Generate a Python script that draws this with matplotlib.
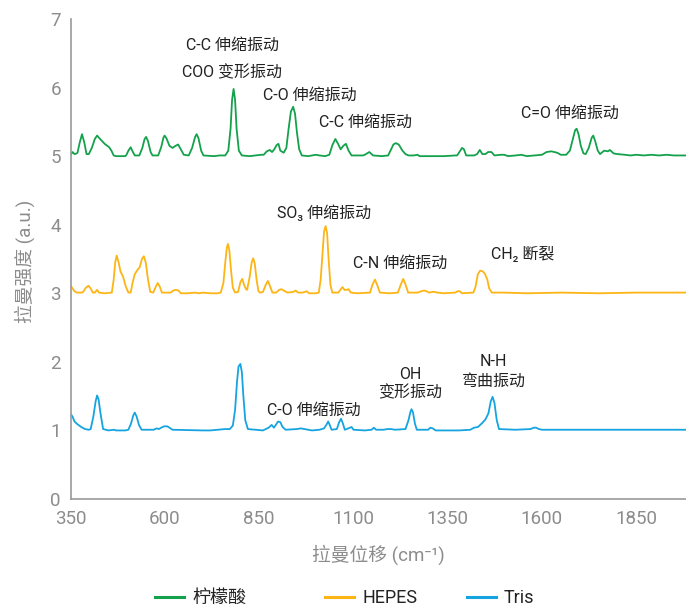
import matplotlib
matplotlib.use("Agg")
import matplotlib.pyplot as plt
from matplotlib.lines import Line2D

plt.rcParams['font.family'] = ['Roboto', 'Noto Sans CJK SC', 'DejaVu Sans']

# Raman shift (cm-1) and intensity (a.u.) for each buffer, offset vertically
citric_x = [350, 355, 360, 366, 368, 374, 380, 386, 392, 398, 406, 414, 420, 428, 440, 452,
            458, 464, 470, 495, 498, 503, 509, 515, 520, 532, 540, 546, 550, 555, 562, 567,
            582, 590, 596, 599, 604, 612, 620, 628, 635, 642, 650, 663, 672, 680, 684, 689,
            696, 702, 730, 745, 760, 768, 774, 778, 782, 786, 790, 796, 804, 825, 840, 855,
            862, 870, 878, 884, 890, 896, 901, 906, 915, 922, 928, 934, 940, 945, 950, 956,
            963, 980, 1000, 1010, 1025, 1036, 1044, 1052, 1059, 1066, 1073, 1080, 1087, 1095,
            1125, 1130, 1142, 1152, 1175, 1192, 1200, 1206, 1212, 1220, 1230, 1238, 1246,
            1260, 1270, 1275, 1300, 1340, 1370, 1375, 1382, 1388, 1393, 1399, 1420, 1428,
            1435, 1442, 1450, 1457, 1466, 1474, 1490, 1500, 1510, 1530, 1545, 1560, 1580,
            1600, 1612, 1625, 1640, 1650, 1664, 1674, 1682, 1688, 1692, 1697, 1703, 1710,
            1716, 1724, 1732, 1736, 1741, 1748, 1754, 1765, 1775, 1780, 1790, 1800, 1820,
            1835, 1850, 1870, 1890, 1910, 1930, 1950, 1980]
citric_y = [5.02, 5.06, 5.03, 5.04, 5.05, 5.20, 5.32, 5.20, 5.03, 5.03, 5.12, 5.25, 5.30, 5.25,
            5.18, 5.13, 5.08, 5.01, 5.00, 5.00, 5.02, 5.08, 5.13, 5.06, 5.01, 5.01, 5.12, 5.25,
            5.28, 5.22, 5.06, 5.01, 5.01, 5.13, 5.27, 5.30, 5.26, 5.15, 5.12, 5.15, 5.17, 5.10,
            5.02, 5.01, 5.12, 5.28, 5.32, 5.26, 5.08, 5.01, 5.00, 5.01, 5.01, 5.08, 5.40, 5.82,
            5.98, 5.82, 5.40, 5.08, 5.01, 5.00, 5.01, 5.02, 5.02, 5.07, 5.09, 5.06, 5.10, 5.16,
            5.18, 5.08, 5.05, 5.12, 5.40, 5.65, 5.72, 5.62, 5.35, 5.10, 5.01, 5.00, 5.02, 5.01,
            5.00, 5.02, 5.16, 5.25, 5.18, 5.10, 5.15, 5.18, 5.08, 5.01, 5.01, 5.02, 5.06, 5.01,
            5.00, 5.01, 5.10, 5.17, 5.19, 5.17, 5.08, 5.03, 5.01, 5.01, 5.02, 5.00, 5.00, 5.00,
            5.01, 5.01, 5.07, 5.12, 5.10, 5.01, 5.01, 5.03, 5.09, 5.03, 5.03, 5.06, 5.06, 5.01,
            5.02, 5.02, 5.00, 5.01, 5.02, 5.00, 5.01, 5.02, 5.06, 5.07, 5.05, 5.02, 5.02, 5.08,
            5.25, 5.38, 5.40, 5.32, 5.15, 5.04, 5.03, 5.12, 5.27, 5.30, 5.22, 5.08, 5.03, 5.08,
            5.07, 5.09, 5.04, 5.03, 5.02, 5.01, 5.02, 5.01, 5.02, 5.01, 5.02, 5.01, 5.01]

hepes_x = [350, 355, 360, 366, 380, 383, 390, 397, 403, 409, 414, 420, 425, 440, 459, 464,
           468, 472, 477, 482, 489, 496, 503, 509, 514, 520, 527, 533, 539, 544, 549, 555,
           561, 569, 576, 581, 586, 592, 615, 622, 629, 636, 642, 660, 680, 690, 700, 720,
           740, 748, 755, 760, 764, 767, 771, 775, 780, 786, 794, 800, 805, 810, 815, 818,
           825, 830, 834, 838, 843, 848, 852, 860, 867, 873, 879, 885, 895, 903, 909, 915,
           925, 940, 947, 953, 965, 976, 982, 1000, 1008, 1013, 1018, 1022, 1026, 1030,
           1034, 1039, 1044, 1060, 1065, 1071, 1076, 1082, 1087, 1093, 1110, 1140, 1144,
           1150, 1157, 1163, 1170, 1195, 1218, 1225, 1232, 1238, 1245, 1270, 1280, 1287,
           1294, 1300, 1310, 1316, 1322, 1340, 1370, 1376, 1382, 1388, 1418, 1424, 1430,
           1436, 1443, 1449, 1455, 1460, 1467, 1500, 1560, 1650, 1750, 1850, 1930, 1980]
hepes_y = [3.11, 3.07, 3.03, 3.01, 3.01, 3.02, 3.08, 3.11, 3.07, 3.01, 3.01, 3.05, 3.01, 3.00,
           3.01, 3.20, 3.45, 3.55, 3.45, 3.32, 3.24, 3.10, 3.01, 3.01, 3.15, 3.28, 3.34, 3.38,
           3.50, 3.54, 3.45, 3.20, 3.02, 3.01, 3.10, 3.15, 3.10, 3.01, 3.01, 3.04, 3.05, 3.04,
           3.00, 3.00, 3.01, 3.00, 3.01, 3.00, 3.00, 3.01, 3.15, 3.45, 3.66, 3.72, 3.62, 3.35,
           3.08, 3.01, 3.02, 3.16, 3.21, 3.12, 3.06, 3.05, 3.25, 3.45, 3.51, 3.44, 3.20, 3.03,
           3.01, 3.02, 3.12, 3.18, 3.10, 3.01, 3.01, 3.05, 3.06, 3.04, 3.01, 3.02, 3.04, 3.01,
           3.01, 3.03, 3.00, 3.00, 3.01, 3.20, 3.60, 3.90, 3.98, 3.88, 3.50, 3.12, 3.01, 3.01,
           3.05, 3.09, 3.05, 3.05, 3.06, 3.01, 3.00, 3.01, 3.01, 3.12, 3.20, 3.12, 3.01, 3.00,
           3.01, 3.12, 3.21, 3.13, 3.01, 3.01, 3.03, 3.04, 3.03, 3.01, 3.02, 3.02, 3.01, 3.00,
           3.01, 3.03, 3.03, 3.00, 3.01, 3.10, 3.28, 3.33, 3.32, 3.28, 3.20, 3.07, 3.01, 3.01,
           3.00, 3.01, 3.00, 3.01, 3.01, 3.01]

tris_x = [350, 355, 360, 368, 378, 388, 398, 403, 410, 416, 420, 424, 429, 436, 450, 465,
          470, 495, 503, 510, 516, 520, 525, 531, 538, 570, 578, 584, 590, 598, 606, 612,
          620, 700, 720, 760, 772, 780, 786, 791, 795, 800, 804, 808, 813, 820, 860, 875,
          883, 889, 894, 900, 906, 912, 920, 950, 960, 970, 990, 1010, 1022, 1028, 1033,
          1037, 1042, 1056, 1062, 1067, 1072, 1077, 1082, 1095, 1100, 1130, 1148, 1154,
          1160, 1180, 1190, 1200, 1210, 1238, 1246, 1251, 1254, 1258, 1263, 1268, 1298,
          1304, 1310, 1318, 1380, 1410, 1420, 1430, 1440, 1450, 1458, 1464, 1469, 1474,
          1480, 1486, 1530, 1570, 1578, 1584, 1592, 1600, 1650, 1700, 1750, 1800, 1850,
          1900, 1950, 1980]
tris_y = [1.24, 1.20, 1.13, 1.09, 1.05, 1.02, 1.01, 1.02, 1.20, 1.42, 1.51, 1.45, 1.25, 1.02,
          1.00, 1.01, 1.00, 1.00, 1.01, 1.10, 1.22, 1.26, 1.20, 1.08, 1.01, 1.01, 1.03, 1.02,
          1.04, 1.06, 1.06, 1.04, 1.01, 1.00, 1.00, 1.02, 1.02, 1.07, 1.30, 1.70, 1.93, 1.97,
          1.85, 1.50, 1.15, 1.02, 1.00, 1.04, 1.08, 1.04, 1.08, 1.13, 1.12, 1.05, 1.01, 1.02,
          1.03, 1.02, 1.00, 1.01, 1.03, 1.08, 1.13, 1.08, 1.01, 1.02, 1.12, 1.17, 1.10, 1.01,
          1.02, 1.05, 1.01, 1.00, 1.01, 1.04, 1.01, 1.01, 1.02, 1.02, 1.01, 1.02, 1.15, 1.27,
          1.31, 1.26, 1.10, 1.01, 1.01, 1.04, 1.03, 1.00, 1.00, 1.01, 1.04, 1.05, 1.10, 1.16,
          1.25, 1.42, 1.49, 1.40, 1.15, 1.02, 1.01, 1.02, 1.04, 1.04, 1.02, 1.01, 1.01, 1.01,
          1.01, 1.01, 1.01, 1.01, 1.01, 1.01]

series_names = ['柠檬酸', 'HEPES', 'Tris']
series_colors = ['#13a24b', '#fdb515', '#16a4e0']

# peak assignments: (text, x, y)
annotations = [
    ('C-C 伸缩振动', 778, 6.62),
    ('COO 变形振动', 778, 6.22),
    ('C-O 伸缩振动', 984, 5.89),
    ('C-C 伸缩振动', 1133, 5.50),
    ('C=O 伸缩振动', 1674, 5.63),
    ('SO\u2083 伸缩振动', 1021, 4.18),
    ('C-N 伸缩振动', 1223, 3.44),
    ('CH\u2082 断裂', 1549, 3.57),
    ('C-O 伸缩振动', 995, 1.30),
    ('OH', 1250, 1.81),
    ('变形振动', 1250, 1.55),
    ('N-H', 1472, 2.00),
    ('弯曲振动', 1472, 1.71),
]

x_ticks = [350, 600, 850, 1100, 1350, 1600, 1850]
y_ticks = [0, 1, 2, 3, 4, 5, 6, 7]

W, H = 686, 606
fig = plt.figure(figsize=(W / 100, H / 100), dpi=100)
ax = fig.add_axes([70.7 / W, (H - 499) / H, (W - 70.7) / W, (499 - 19) / H])

grey = '#8c8c8c'
lines = []
for xs, ys, c in zip([citric_x, hepes_x, tris_x], [citric_y, hepes_y, tris_y], series_colors):
    ln, = ax.plot(xs, ys, color=c, lw=1.3, solid_joinstyle='round')
    lines.append(ln)

for text, x, y in annotations:
    ax.text(x, y, text, ha='center', va='center', fontsize=11.5, color='#222222')

ax.set_xlim(350, 1982)
ax.set_ylim(0, 7)
ax.set_xticks(x_ticks)
ax.set_yticks(y_ticks)
ax.tick_params(axis='both', length=0, labelsize=13.5, labelcolor=grey)
ax.tick_params(axis='x', pad=8)
ax.tick_params(axis='y', pad=7)
for side in ['top', 'right']:
    ax.spines[side].set_visible(False)
for side in ['left', 'bottom']:
    ax.spines[side].set_color('#9a9a9a')
    ax.spines[side].set_linewidth(1.2)

ax.set_xlabel('拉曼位移 (cm\u207b\u00b9)', fontsize=13.5, color=grey, labelpad=12)
fig.text(25 / W, 1 - 261 / H, '拉曼强度 (a.u.)', rotation=90, ha='center', va='center',
         fontsize=13.5, color=grey)

# legend entries placed individually along the bottom
legend_x = [155, 325, 467]
for ln, name, lx in zip(lines, series_names, legend_x):
    handle = Line2D([], [], color=ln.get_color(), lw=2.2)
    fig.legend([handle], [name], loc='center left', bbox_to_anchor=(lx / W, 1 - 598 / H),
               frameon=False, fontsize=13, handlelength=1.6, handletextpad=0.45,
               borderpad=0, borderaxespad=0, labelcolor='#222222')

fig.savefig('out.png', dpi=100)
